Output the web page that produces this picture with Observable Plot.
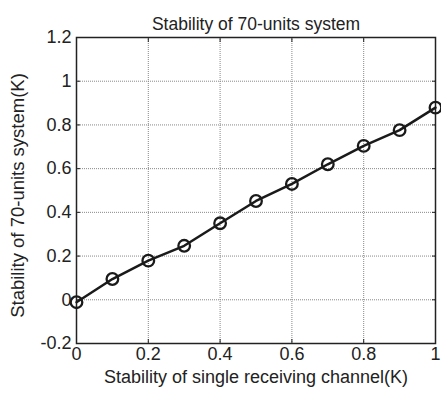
<!DOCTYPE html>
<html><head><meta charset="utf-8">
<script src="https://cdn.jsdelivr.net/npm/d3@7"></script>
<script src="https://cdn.jsdelivr.net/npm/@observablehq/plot@0.6"></script>
<style>body{margin:0;background:#fff}</style>
</head><body><div id="chart"></div>
<script>
const title = "Stability of 70-units system";
const xLabel = "Stability of single receiving channel(K)";
const yLabel = "Stability of 70-units system(K)";
const xValues = [0, 0.1, 0.2, 0.3, 0.4, 0.5, 0.6, 0.7, 0.8, 0.9, 1.0];
const yValues = [-0.011, 0.095, 0.179, 0.247, 0.35, 0.452, 0.53, 0.62, 0.704, 0.776, 0.879];
const xTicks = [0, 0.2, 0.4, 0.6, 0.8, 1];
const yTicks = [-0.2, 0, 0.2, 0.4, 0.6, 0.8, 1, 1.2];
const data = xValues.map((x, i) => ({x, y: yValues[i]}));
const fmt = d => String(+d.toFixed(1));
const none = () => "";
const font = "Liberation Sans, Arial, sans-serif";
const chart = Plot.plot({
  width: 441, height: 393,
  marginLeft: 76, marginRight: 6, marginTop: 37, marginBottom: 50,
  style: {fontFamily: font, fontSize: "18px", color: "#222", background: "#fff", overflow: "visible"},
  x: {domain: [0, 1], ticks: xTicks},
  y: {domain: [-0.2, 1.2], ticks: yTicks},
  marks: [
    Plot.gridX(xTicks, {stroke: "#888", strokeOpacity: 1, strokeDasharray: "1,1", strokeWidth: 1}),
    Plot.gridY(yTicks, {stroke: "#888", strokeOpacity: 1, strokeDasharray: "1,1", strokeWidth: 1}),
    Plot.axisX(xTicks, {anchor: "bottom", tickSize: 0, tickPadding: 4, tickFormat: fmt, fontSize: 18, label: null}),
    Plot.axisX(xTicks, {anchor: "bottom", tickSize: -4, tickFormat: none, label: null, stroke: "#222"}),
    Plot.axisX(xTicks, {anchor: "top", tickSize: -4, tickFormat: none, label: null, stroke: "#222"}),
    Plot.axisY(yTicks, {anchor: "left", tickSize: 0, tickPadding: 5, tickFormat: fmt, fontSize: 18, label: null}),
    Plot.axisY(yTicks, {anchor: "left", tickSize: -4, tickFormat: none, label: null, stroke: "#222"}),
    Plot.axisY(yTicks, {anchor: "right", tickSize: -4, tickFormat: none, label: null, stroke: "#222"}),
    Plot.frame({stroke: "#222", strokeWidth: 1.5}),
    Plot.line(data, {x: "x", y: "y", stroke: "#1a1a1a", strokeWidth: 2.5}),
    Plot.dot(data, {x: "x", y: "y", r: 5.8, stroke: "#1a1a1a", strokeWidth: 2.3, fill: "none"}),
    Plot.text([title], {frameAnchor: "top", dy: -20, fontSize: 17.5, fill: "#222"}),
    Plot.text([xLabel], {frameAnchor: "bottom", dy: 39, fontSize: 18, fill: "#222"}),
    Plot.text([yLabel], {frameAnchor: "left", dx: -58, dy: 5, rotate: -90, textAnchor: "middle", fontSize: 18.5, fill: "#222"})
  ]
});
document.getElementById("chart").append(chart);
</script>
</body></html>
